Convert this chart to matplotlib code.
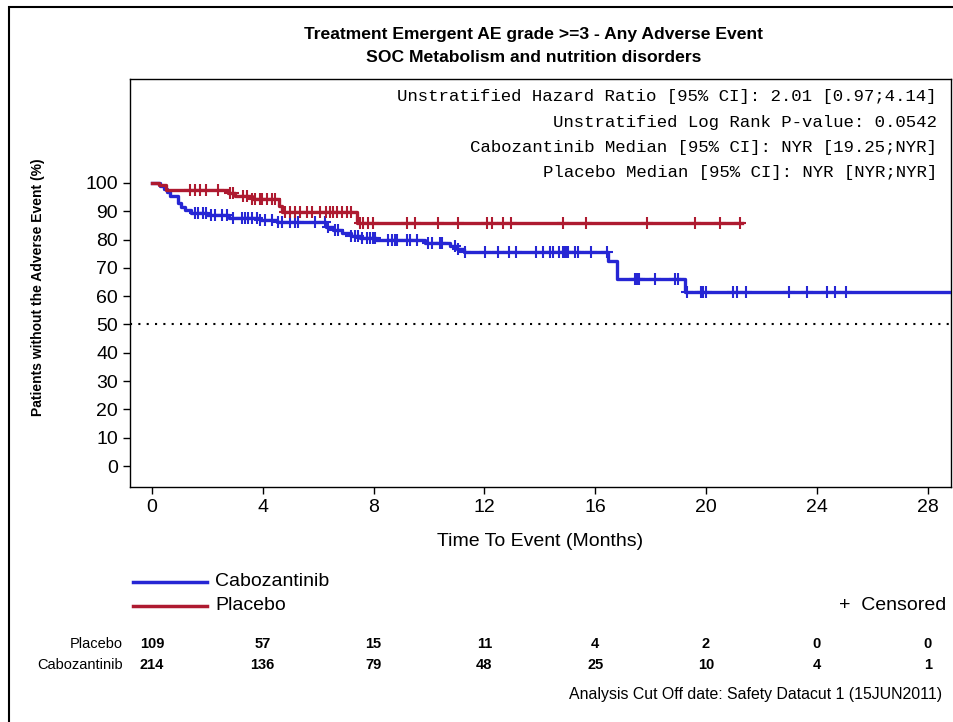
import numpy as np
import matplotlib
matplotlib.use("Agg")
from matplotlib import pyplot as plt
from matplotlib.lines import Line2D
from matplotlib.patches import Rectangle
from matplotlib.transforms import blended_transform_factory

# Kaplan-Meier steps (months, % without event)
cabo_times = [0, 0.3, 0.45, 0.55, 0.65, 0.95, 1.05, 1.2, 1.4, 2.0, 2.8, 3.9, 4.5,
              6.3, 6.55, 6.85, 7.2, 7.5, 8.1, 9.85, 10.75, 11.0, 11.25,
              16.46, 16.78, 19.24, 29.5]
cabo_surv = [100, 99.0, 98.0, 96.8, 95.5, 93.0, 91.5, 90.3, 89.3, 88.5, 87.6, 86.8, 86.2,
             84.5, 83.2, 82.3, 81.3, 80.7, 79.9, 78.8, 77.6, 76.6, 75.6,
             72.4, 66.2, 61.6, 61.6]
cabo_censor = [1.55, 1.67, 1.85, 1.97, 2.15, 2.27, 2.52, 2.7, 2.93, 3.24, 3.36, 3.48,
               3.6, 3.78, 3.9, 4.08, 4.32, 4.56, 4.68, 4.98, 5.16, 5.28, 5.88, 6.25,
               6.34, 6.6, 6.73, 7.2, 7.33, 7.45, 7.6, 7.75, 7.87, 7.99, 8.05, 8.53,
               8.65, 8.77, 8.86, 9.19, 9.31, 9.58, 9.98, 10.1, 10.4, 10.46, 10.94,
               11.06, 11.3, 12.02, 12.5, 12.9, 13.14, 13.86, 14.1, 14.36, 14.46, 14.7,
               14.83, 14.91, 14.97, 15.0, 15.27, 15.39, 15.84, 16.41, 17.44, 17.5,
               17.58, 18.16, 18.88, 19.0, 19.33, 19.8, 19.9, 20.0, 20.96, 21.1,
               21.43, 23.0, 23.66, 24.36, 24.66, 25.04]

plac_times = [0, 0.25, 0.5, 2.75, 3.0, 3.6, 4.6, 4.68, 7.4, 21.3]
plac_surv = [100, 99.1, 97.5, 96.5, 95.4, 94.3, 92.0, 89.9, 85.7, 85.7]
plac_censor = [1.37, 1.55, 1.73, 1.97, 2.4, 2.82, 2.93, 3.3, 3.42, 3.6, 3.72, 3.9,
               3.96, 4.14, 4.32, 4.44, 4.8, 4.98, 5.16, 5.34, 5.58, 5.77, 6.06, 6.3,
               6.43, 6.55, 6.67, 6.85, 7.03, 7.2, 7.5, 7.63, 7.81, 7.99, 9.19, 9.49,
               10.34, 11.06, 12.08, 12.26, 12.68, 12.95, 14.83, 15.67, 17.86, 19.6,
               20.5, 21.23]

risk_times = [0, 4, 8, 12, 16, 20, 24, 28]
plac_risk = [109, 57, 15, 11, 4, 2, 0, 0]
cabo_risk = [214, 136, 79, 48, 25, 10, 4, 1]

stats_lines = [
    "Unstratified Hazard Ratio [95% CI]: 2.01 [0.97;4.14]",
    "Unstratified Log Rank P-value: 0.0542",
    "Cabozantinib Median [95% CI]: NYR [19.25;NYR]",
    "Placebo Median [95% CI]: NYR [NYR;NYR]",
]

BLUE = "#2626D4"
RED = "#AE1A30"
W, H = 954, 722

plt.rcParams["font.family"] = ["Liberation Sans", "DejaVu Sans"]

fig = plt.figure(figsize=(W / 100, H / 100), dpi=100)
ax = fig.add_axes([130 / W, 1 - 487 / H, (951 - 130) / W, (487 - 79) / H])


def surv_at(times, surv, t):
    idx = np.searchsorted(np.array(times), np.array(t), side="right") - 1
    return np.array(surv)[idx]


for times, surv, cens, col in [(cabo_times, cabo_surv, cabo_censor, BLUE),
                               (plac_times, plac_surv, plac_censor, RED)]:
    ax.step(times, surv, where="post", color=col, lw=2.4, zorder=3)
    ax.plot(cens, surv_at(times, surv, cens), ls="none", marker="+",
            ms=8, mew=1.5, color=col, zorder=4)

ax.axhline(50, color="black", ls=(0, (1, 3)), lw=1.5)

ax.set_xlim(-0.79, 28.84)
ax.set_ylim(-7.4, 136.7)
ax.set_xticks(risk_times)
ax.set_yticks(np.arange(0, 101, 10))
ax.tick_params(labelsize=14, length=5, width=1, color="black")
for sp in ax.spines.values():
    sp.set_linewidth(1.0)

fig.text(0.5 * (130 + 951) / W, 1 - 541 / H, "Time To Event (Months)",
         ha="center", va="center", fontsize=14)
fig.text(38 / W, 1 - 287 / H, "Patients without the Adverse Event (%)",
         rotation=90, ha="center", va="center", fontsize=10, fontweight="bold")

fig.text(534 / W, 1 - 34 / H, "Treatment Emergent AE grade >=3 - Any Adverse Event",
         ha="center", va="center", fontsize=12.6, fontweight="bold")
fig.text(534 / W, 1 - 57 / H, "SOC Metabolism and nutrition disorders",
         ha="center", va="center", fontsize=12.6, fontweight="bold")

for i, line in enumerate(stats_lines):
    fig.text(937 / W, 1 - (97 + 25.3 * i) / H, line, ha="right", va="center",
             fontsize=12.5, family="Liberation Mono")

# legend
for y, col, lab in [(582, BLUE, "Cabozantinib"), (606, RED, "Placebo")]:
    fig.add_artist(Line2D([133 / W, 207 / W], [1 - y / H, 1 - y / H],
                          color=col, lw=2.5, transform=fig.transFigure))
    fig.text(215 / W, 1 - y / H, lab, ha="left", va="center", fontsize=14)
fig.text(946 / W, 1 - 606 / H, "+  Censored", ha="right", va="center", fontsize=14)

# number at risk
tr = blended_transform_factory(ax.transData, fig.transFigure)
for y, lab, vals in [(644, "Placebo", plac_risk), (665, "Cabozantinib", cabo_risk)]:
    fig.text(123 / W, 1 - y / H, lab, ha="right", va="center", fontsize=10.5)
    for t, v in zip(risk_times, vals):
        ax.text(t, 1 - y / H, str(v), transform=tr, ha="center", va="center",
                fontsize=10.5, fontweight="bold")

fig.text(942 / W, 1 - 694 / H, "Analysis Cut Off date: Safety Datacut 1 (15JUN2011)",
         ha="right", va="center", fontsize=11.4)

fig.add_artist(Rectangle((9 / W, -0.05), 1.1, 1.05 - 7 / H, fill=False,
                         edgecolor="black", lw=1.5, transform=fig.transFigure))

fig.savefig("out.png", dpi=100)
